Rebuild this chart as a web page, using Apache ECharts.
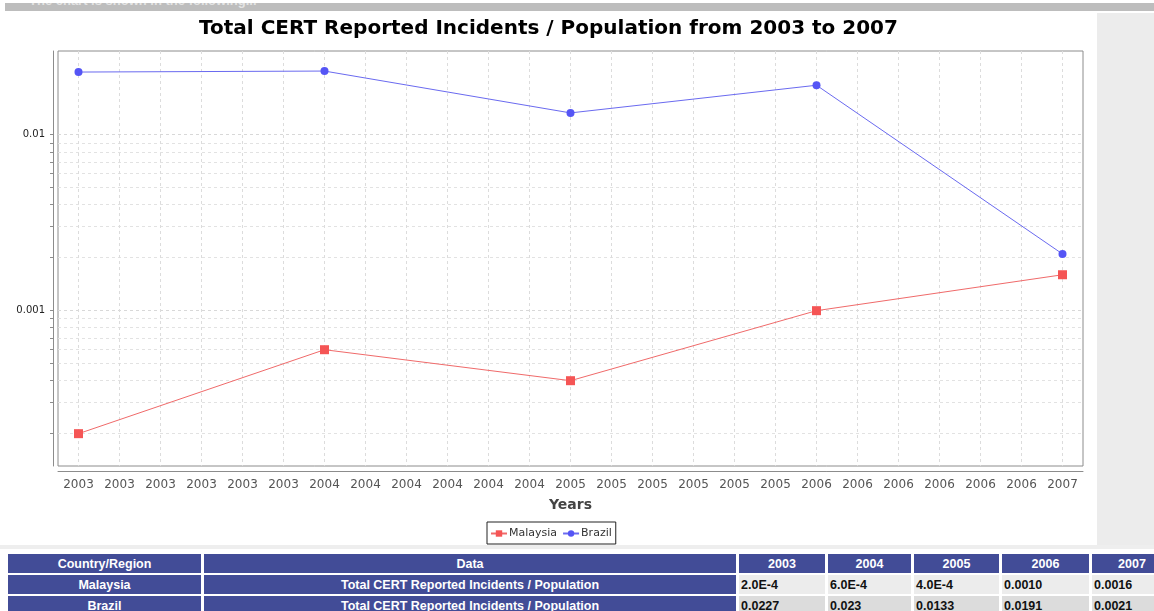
<!DOCTYPE html>
<html>
<head>
<meta charset="utf-8">
<script src="https://cdn.jsdelivr.net/npm/echarts@6/dist/echarts.min.js"></script>
<style>
  body { margin: 0; background: #fff; width: 1154px; height: 611px; overflow: hidden; position: relative; font-family: "DejaVu Sans", sans-serif; }
  #topbar { position: absolute; z-index: 5; left: 5px; top: 3px; width: 1149px; height: 8px; background: #bdbdbd; overflow: hidden; }
  #topbar span { position: absolute; left: 24px; top: -10px; color: #e4e4e4; font: bold 13px "Liberation Sans", sans-serif; white-space: nowrap; }
  #side { position: absolute; left: 1097px; top: 13px; width: 57px; height: 532px; background: #ececec; }
  #chart { position: absolute; left: 0; top: 0; width: 1097px; height: 545px; }
  #band { position: absolute; left: 0; top: 545px; width: 1154px; height: 4px; background: #eeeeee; }
  #wrap { position: absolute; left: 5px; top: 552px; width: 1400px; }
  #tbl { border-collapse: separate; border-spacing: 3px 2px; table-layout: fixed; font: bold 12.5px "Liberation Sans", Arial, sans-serif; }
  #tbl td { height: 19px; padding: 0 2px; white-space: nowrap; overflow: hidden; box-sizing: border-box; }
  #tbl td.h { background: #424c97; color: #fff; text-align: center; }
  #tbl td.d1 { background: #ececec; color: #111; text-align: left; }
  #tbl td.d2 { background: #dcdcdc; color: #111; text-align: left; }
</style>
</head>
<body>
<div id="topbar"><span>The chart is shown in the following...</span></div>
<div id="side"></div>
<div id="chart"></div>
<div id="band"></div>
<div id="wrap"><table id="tbl"></table></div>
<script>
// data
const years = ['2003', '2004', '2005', '2006', '2007']
const malaysia = [0.0002, 0.0006, 0.0004, 0.0010, 0.0016]
const brazil = [0.0227, 0.023, 0.0133, 0.0191, 0.0021]
const malaysiaText = ['2.0E-4', '6.0E-4', '4.0E-4', '0.0010', '0.0016']
const brazilText = ['0.0227', '0.023', '0.0133', '0.0191', '0.0021']
const dataLabel = 'Total CERT Reported Incidents / Population'

// two-month steps along the x axis (every label shows only the year)
const periods = [
  '2003-01', '2003-03', '2003-05', '2003-07', '2003-09', '2003-11',
  '2004-01', '2004-03', '2004-05', '2004-07', '2004-09', '2004-11',
  '2005-01', '2005-03', '2005-05', '2005-07', '2005-09', '2005-11',
  '2006-01', '2006-03', '2006-05', '2006-07', '2006-09', '2006-11',
  '2007-01'
]
const majorTicks = [0.001, 0.01]
const minorTicks = [
  0.0002, 0.0003, 0.0004, 0.0005, 0.0006, 0.0007, 0.0008, 0.0009,
  0.002, 0.003, 0.004, 0.005, 0.006, 0.007, 0.008, 0.009
]
const yMin = 0.000131
const yMax = 0.0299

// table
const tbl = document.getElementById('tbl')
const widths = [193, 532, 86, 83, 85, 87, 80]
let html = '<colgroup>' + widths.map(w => `<col style="width:${w}px">`).join('') + '</colgroup>'
html += '<tr><td class="h">Country/Region</td><td class="h">Data</td>' + years.map(y => `<td class="h">${y}</td>`).join('') + '</tr>'
html += '<tr><td class="h">Malaysia</td><td class="h">' + dataLabel + '</td>' + malaysiaText.map(t => `<td class="d1">${t}</td>`).join('') + '</tr>'
html += '<tr><td class="h">Brazil</td><td class="h">' + dataLabel + '</td>' + brazilText.map(t => `<td class="d2">${t}</td>`).join('') + '</tr>'
tbl.innerHTML = html

const chart = echarts.init(document.getElementById('chart'))

const option = {
  backgroundColor: '#fff',
  animation: false,
  title: {
    text: 'Total CERT Reported Incidents / Population from 2003 to 2007',
    left: 'center',
    top: 14,
    textStyle: {
      fontFamily: 'DejaVu Sans',
      fontSize: 20,
      fontWeight: 'bold',
      color: '#000'
    }
  },
  legend: {
    left: 487,
    top: 522,
    data: ['Malaysia', 'Brazil'],
    borderColor: '#222',
    borderWidth: 1,
    padding: [6, 4, 5, 3],
    itemGap: 5,
    itemWidth: 16,
    itemHeight: 8,
    textStyle: {
      fontFamily: 'DejaVu Sans',
      fontSize: 11,
      color: '#333',
      padding: [0, 0, 0, -3]
    }
  },
  grid: {
    left: 58,
    top: 51,
    right: 14,
    bottom: 79,
    show: true,
    backgroundColor: '#fff',
    borderColor: '#8c8c8c',
    borderWidth: 1
  },
  xAxis: {
    type: 'category',
    data: periods,
    boundaryGap: true,
    offset: 5,
    name: 'Years',
    nameLocation: 'middle',
    nameGap: 27,
    nameTextStyle: {
      fontFamily: 'DejaVu Sans',
      fontSize: 14,
      fontWeight: 'bold',
      color: '#444'
    },
    axisLine: { lineStyle: { color: '#8c8c8c', width: 1 } },
    axisTick: { alignWithLabel: true, length: 3, lineStyle: { color: '#8c8c8c' } },
    axisLabel: {
      interval: 0,
      margin: 8,
      fontFamily: 'DejaVu Sans',
      fontSize: 12,
      color: '#555',
      formatter: v => v.slice(0, 4)
    },
    splitLine: {
      show: true,
      alignWithLabel: true,
      interval: 0,
      lineStyle: { color: '#dcdcdc', type: [3, 3], width: 1 }
    }
  },
  yAxis: [
    {
      type: 'log',
      position: 'left',
      min: yMin,
      max: yMax,
      offset: 5,
      axisLine: { show: true, lineStyle: { color: '#8c8c8c', width: 1 } },
      axisTick: { show: true, length: 3, customValues: majorTicks, lineStyle: { color: '#8c8c8c' } },
      axisLabel: {
        customValues: majorTicks,
        margin: 8,
        fontFamily: 'DejaVu Sans',
        fontSize: 10,
        color: '#222',
        formatter: v => String(Number(v.toPrecision(3)))
      },
      splitLine: { show: true, lineStyle: { color: '#d8d8d8', type: [3, 3], width: 1 } }
    },
    {
      type: 'log',
      position: 'left',
      min: yMin,
      max: yMax,
      offset: 5,
      axisLine: { show: false },
      axisTick: { show: true, length: 3, customValues: minorTicks, lineStyle: { color: '#8c8c8c' } },
      axisLabel: { show: false },
      splitLine: { show: true, lineStyle: { color: '#e2e2e2', type: [3, 3], width: 1 } }
    }
  ],
  series: [
    {
      name: 'Malaysia',
      type: 'line',
      yAxisIndex: 0,
      data: years.map((y, i) => [y + '-01', malaysia[i]]),
      symbol: 'rect',
      symbolSize: 9,
      itemStyle: { color: '#f55555' },
      lineStyle: { color: '#f06a6a', width: 1 }
    },
    {
      name: 'Brazil',
      type: 'line',
      yAxisIndex: 0,
      data: years.map((y, i) => [y + '-01', brazil[i]]),
      symbol: 'circle',
      symbolSize: 8,
      itemStyle: { color: '#5555f5' },
      lineStyle: { color: '#6a6af0', width: 1 }
    }
  ]
}

chart.setOption(option)
</script>
</body>
</html>
